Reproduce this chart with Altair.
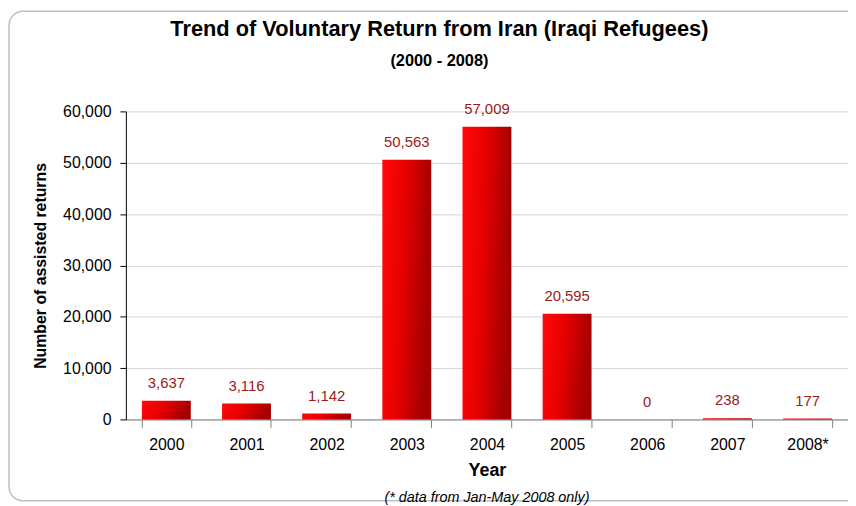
import altair as alt
import pandas as pd

years = ["2000", "2001", "2002", "2003", "2004", "2005", "2006", "2007", "2008*"]
returns = [3637, 3116, 1142, 50563, 57009, 20595, 0, 238, 177]
labels = ["3,637", "3,116", "1,142", "50,563", "57,009", "20,595", "0", "238", "177"]

df = pd.DataFrame({"Year": years, "Returns": returns, "Label": labels})

W, H = 729, 311
FONT = "Liberation Sans"

xenc = alt.X("Year:N", sort=years, title="Year",
             scale=alt.Scale(paddingInner=0.39, paddingOuter=0.2),
             axis=alt.Axis(labelAngle=0, labelFontSize=16, labelColor="#000000",
                           labelPadding=9, tickBand="extent", tickSize=8,
                           tickColor="#808080", domainColor="#808080",
                           titleFontSize=18, titleFontWeight="bold",
                           titlePadding=10, titleColor="#000000"))
yenc = alt.Y("Returns:Q", title="Number of assisted returns",
             scale=alt.Scale(domain=[0, 60000]),
             axis=alt.Axis(values=[0, 10000, 20000, 30000, 40000, 50000, 60000],
                           format=",.0f", labelFontSize=16, labelColor="#000000",
                           labelPadding=9, tickSize=6, tickColor="#000000",
                           domainColor="#000000", gridColor="#d4d4d4",
                           titleFontSize=16, titleFontWeight="bold",
                           titleColor="#000000", titlePadding=14))

grad = alt.Gradient(gradient="linear",
                    stops=[alt.GradientStop(color="#ff0a0a", offset=0),
                           alt.GradientStop(color="#e80000", offset=0.45),
                           alt.GradientStop(color="#a30000", offset=1)],
                    x1=0, x2=1, y1=0, y2=0.2)

bars = alt.Chart(df).mark_bar(color=grad).encode(x=xenc, y=yenc)

text = alt.Chart(df).mark_text(baseline="bottom", dy=-10, fontSize=15,
                               color="#9b1b1b", font=FONT).encode(
    x=alt.X("Year:N", sort=years), y="Returns:Q", text="Label:N")

foot = alt.Chart(pd.DataFrame({"t": ["(* data from Jan-May 2008 only)"]})).mark_text(
    fontStyle="italic", fontSize=14.5, font=FONT, color="#000000", baseline="middle"
).encode(text="t:N", x=alt.value(W / 2), y=alt.value(H + 79))

frame = alt.Chart(pd.DataFrame({"a": [0]})).mark_rect(
    fill=None, stroke="#c0c0c0", strokeWidth=1.5, cornerRadius=14
).encode(x=alt.value(-118), x2=alt.value(W + 20),
         y=alt.value(-101), y2=alt.value(H + 82))

chart = alt.layer(frame, bars, text, foot).properties(
    width=W, height=H,
    title=alt.TitleParams(
        text="Trend of Voluntary Return from Iran (Iraqi Refugees)",
        subtitle="(2000 - 2008)",
        fontSize=22, fontWeight="bold", color="#000000", font=FONT,
        subtitleFontSize=16.5, subtitleFontWeight="bold", subtitleColor="#000000",
        subtitleFont=FONT, subtitlePadding=12, anchor="middle", frame="group",
        dx=-48, offset=-60),
    autosize=alt.AutoSizeParams(type="none"),
    padding={"left": 119, "top": 102, "right": 0, "bottom": 86},
).configure(font=FONT).configure_view(stroke=None).configure_axis(
    labelFont=FONT, titleFont=FONT)

chart.save("out.html", embed_options={"renderer": "svg", "actions": False})
